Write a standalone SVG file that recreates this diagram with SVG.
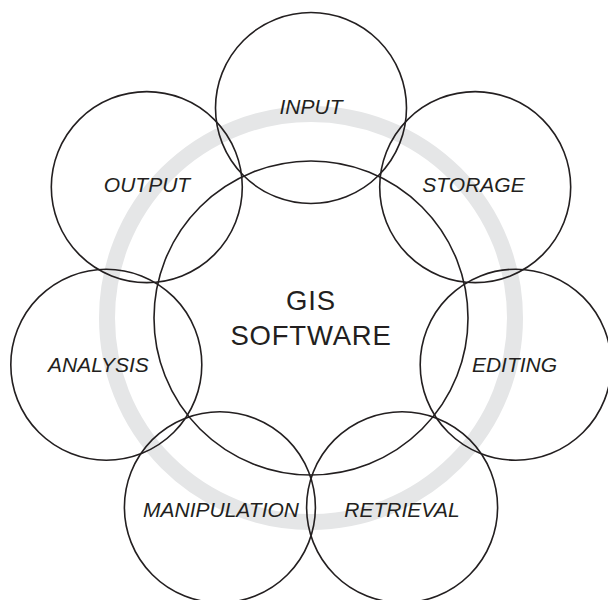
<svg xmlns="http://www.w3.org/2000/svg" width="608" height="600" viewBox="0 0 608 600">
  <style>
    .ring { fill: none; stroke: #e5e6e7; stroke-width: 16; }
    .c { fill: none; stroke: #231f20; stroke-width: 1.6; }
    .lbl { font-family: "Liberation Sans", Arial, sans-serif; font-style: italic; font-size: 21px; fill: #231f20; text-anchor: middle; }
    .core { font-family: "Liberation Sans", Arial, sans-serif; font-size: 27.5px; fill: #231f20; text-anchor: middle; letter-spacing: 0.8px; }
  </style>
  <rect width="608" height="600" fill="#ffffff"/>

  <!-- grey cycle ring behind everything -->
  <circle class="ring" cx="311" cy="318" r="204"/>

  <g id="connectors"></g>

  <g id="core">
    <circle class="c" cx="311" cy="318" r="157"/>
    <text class="core" x="311" y="310">GIS</text>
    <text class="core" x="311" y="345">SOFTWARE</text>
  </g>

  <g id="input">
    <circle class="c" cx="311" cy="108" r="95.5"/>
    <text class="lbl" x="311" y="114">INPUT</text>
  </g>
  <g id="storage">
    <circle class="c" cx="475.2" cy="187.1" r="95.5"/>
    <text class="lbl" x="473.5" y="191.5">STORAGE</text>
  </g>
  <g id="editing">
    <circle class="c" cx="515.7" cy="364.7" r="95.5"/>
    <text class="lbl" x="514.5" y="371.5">EDITING</text>
  </g>
  <g id="retrieval">
    <circle class="c" cx="402.1" cy="507.2" r="95.5"/>
    <text class="lbl" x="402" y="517">RETRIEVAL</text>
  </g>
  <g id="manipulation">
    <circle class="c" cx="219.9" cy="507.2" r="95.5"/>
    <text class="lbl" x="221" y="517">MANIPULATION</text>
  </g>
  <g id="analysis">
    <circle class="c" cx="106.3" cy="364.7" r="95.5"/>
    <text class="lbl" x="98.5" y="371.5">ANALYSIS</text>
  </g>
  <g id="output">
    <circle class="c" cx="146.8" cy="187.1" r="95.5"/>
    <text class="lbl" x="147" y="191.5">OUTPUT</text>
  </g>
</svg>
